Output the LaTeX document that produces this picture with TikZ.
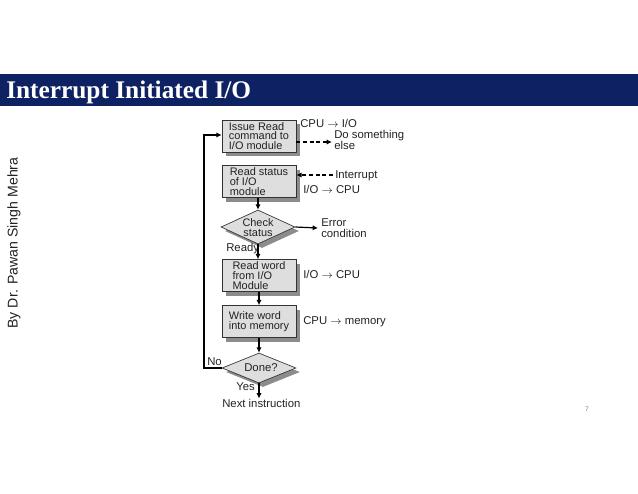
\documentclass[tikz,border=0pt]{standalone}
\usepackage{fontspec}
\setmainfont{Liberation Sans}
\newfontfamily\titlefont{Liberation Serif}
\newcommand\myarr{$\rightarrow$}
\usetikzlibrary{shadows,arrows.meta,shapes.geometric}
\definecolor{navy}{HTML}{0E2163}
\definecolor{boxfill}{HTML}{DEDEDE}
\definecolor{shade}{HTML}{8C8C8C}
\definecolor{ink}{HTML}{222222}
\tikzset{
  lbl/.style={font=\fontsize{8.5}{7.6}\selectfont, text=ink, inner sep=0pt},
  stepbox/.style={rectangle, draw=black!80, line width=0.5pt, fill=boxfill,
    minimum width=74*0.75pt, minimum height=32*0.75pt, inner sep=0pt, align=left,
    font=\fontsize{8.2}{7.4}\selectfont, text=ink,
    drop shadow={shadow xshift=3pt, shadow yshift=-3pt, fill=shade, opacity=1}},
  decbox/.style={diamond, draw=black!80, line width=0.5pt, fill=boxfill, inner sep=0pt,
    drop shadow={shadow xshift=3pt, shadow yshift=-3pt, fill=shade, opacity=1}},
  flow/.style={line width=0.9pt, -{Latex[length=4pt,width=4pt]}},
  dflow/.style={line width=0.9pt, dashed, dash pattern=on 3pt off 2pt, -{Latex[length=4pt,width=4pt]}}
}
\begin{document}
\begin{tikzpicture}[x=0.75pt,y=-0.75pt]
\useasboundingbox (0,0) rectangle (638,493);
% header
\fill[navy] (0,74) rectangle (638,106);
\node[anchor=base west, inner sep=0pt, text=white, font=\titlefont\bfseries\fontsize{19}{22}\selectfont] (title) at (6,98) {Interrupt Initiated I/O};
% side text
\node[rotate=90, inner sep=0pt, text=ink, font=\fontsize{10.6}{12}\selectfont] (author) at (14,243) {By Dr. Pawan Singh Mehra};
% boxes
\node[stepbox] (b1) at (259,136) {Issue Read\\command to\\I/O module};
\node[stepbox] (b2) at (259,181.5) {Read status\\of I/O\\module};
\node[decbox, minimum width=74*0.75pt, minimum height=34*0.75pt] (d1) at (258,227) {};
\node[lbl, align=center, font=\fontsize{8.2}{7.4}\selectfont] (d1t) at (258,228) {Check\\status};
\node[stepbox] (b3) at (259,275.5) {Read word\\from I/O\\Module};
\node[stepbox] (b4) at (259,321.5) {Write word\\into memory};
\node[decbox, minimum width=74*0.75pt, minimum height=30*0.75pt] (d2) at (259,368) {};
\node[lbl] (d2t) at (261,368) {Done?};
\node[lbl, anchor=base west] (next) at (222,407) {Next instruction};
% side labels
\node[lbl, anchor=base west] (l1) at (300,127) {CPU \myarr{} I/O};
\node[lbl, anchor=base west, align=left, font=\fontsize{8.5}{8}\selectfont] (l2) at (334,149) {Do something\\else};
\coordinate (l2a) at (332,142);
\node[lbl, anchor=base west] (l3) at (335,178) {Interrupt};
\coordinate (l3a) at (333,175);
\node[lbl, anchor=base west] (l4) at (303,193) {I/O \myarr{} CPU};
\node[lbl, anchor=base west, align=left, font=\fontsize{8.5}{8}\selectfont] (l5) at (321,237) {Error\\condition};
\coordinate (l5a) at (318,228);
\node[lbl, anchor=base west] (ready) at (226,251) {Ready};
\node[lbl, anchor=base west] (l6) at (303,278) {I/O \myarr{} CPU};
\node[lbl, anchor=base west] (l7) at (303,324) {CPU \myarr{} memory};
\node[lbl, anchor=base west] (no) at (207,365) {No};
\node[lbl, anchor=base west] (yes) at (236,390) {Yes};
\node[inner sep=0pt, text=gray, font=\fontsize{5}{6}\selectfont] (page) at (587,409) {7};
% connectors
\draw[flow] (b2.south -| d1.north) -- (d1.north);
\draw[flow] (d1.south) -- (b3.north -| d1.south);
\draw[flow] (b3.south) -- (b4.north);
\draw[flow] (b4.south) -- (d2.north);
\draw[flow] (d2.south) -- (next.north -| d2.south);
\draw[flow] (d1.east) -- (l5a);
\draw[dflow] (b1.east |- l2a) -- (l2a);
\draw[dflow] (l3a) -- (b2.east |- l3a);
\coordinate (lp1) at (204,368);
\coordinate (lp2) at (204,135);
\draw[flow] (d2.west) -- (lp1) -- (lp2) -- (b1.west |- lp2);
\end{tikzpicture}
\end{document}
